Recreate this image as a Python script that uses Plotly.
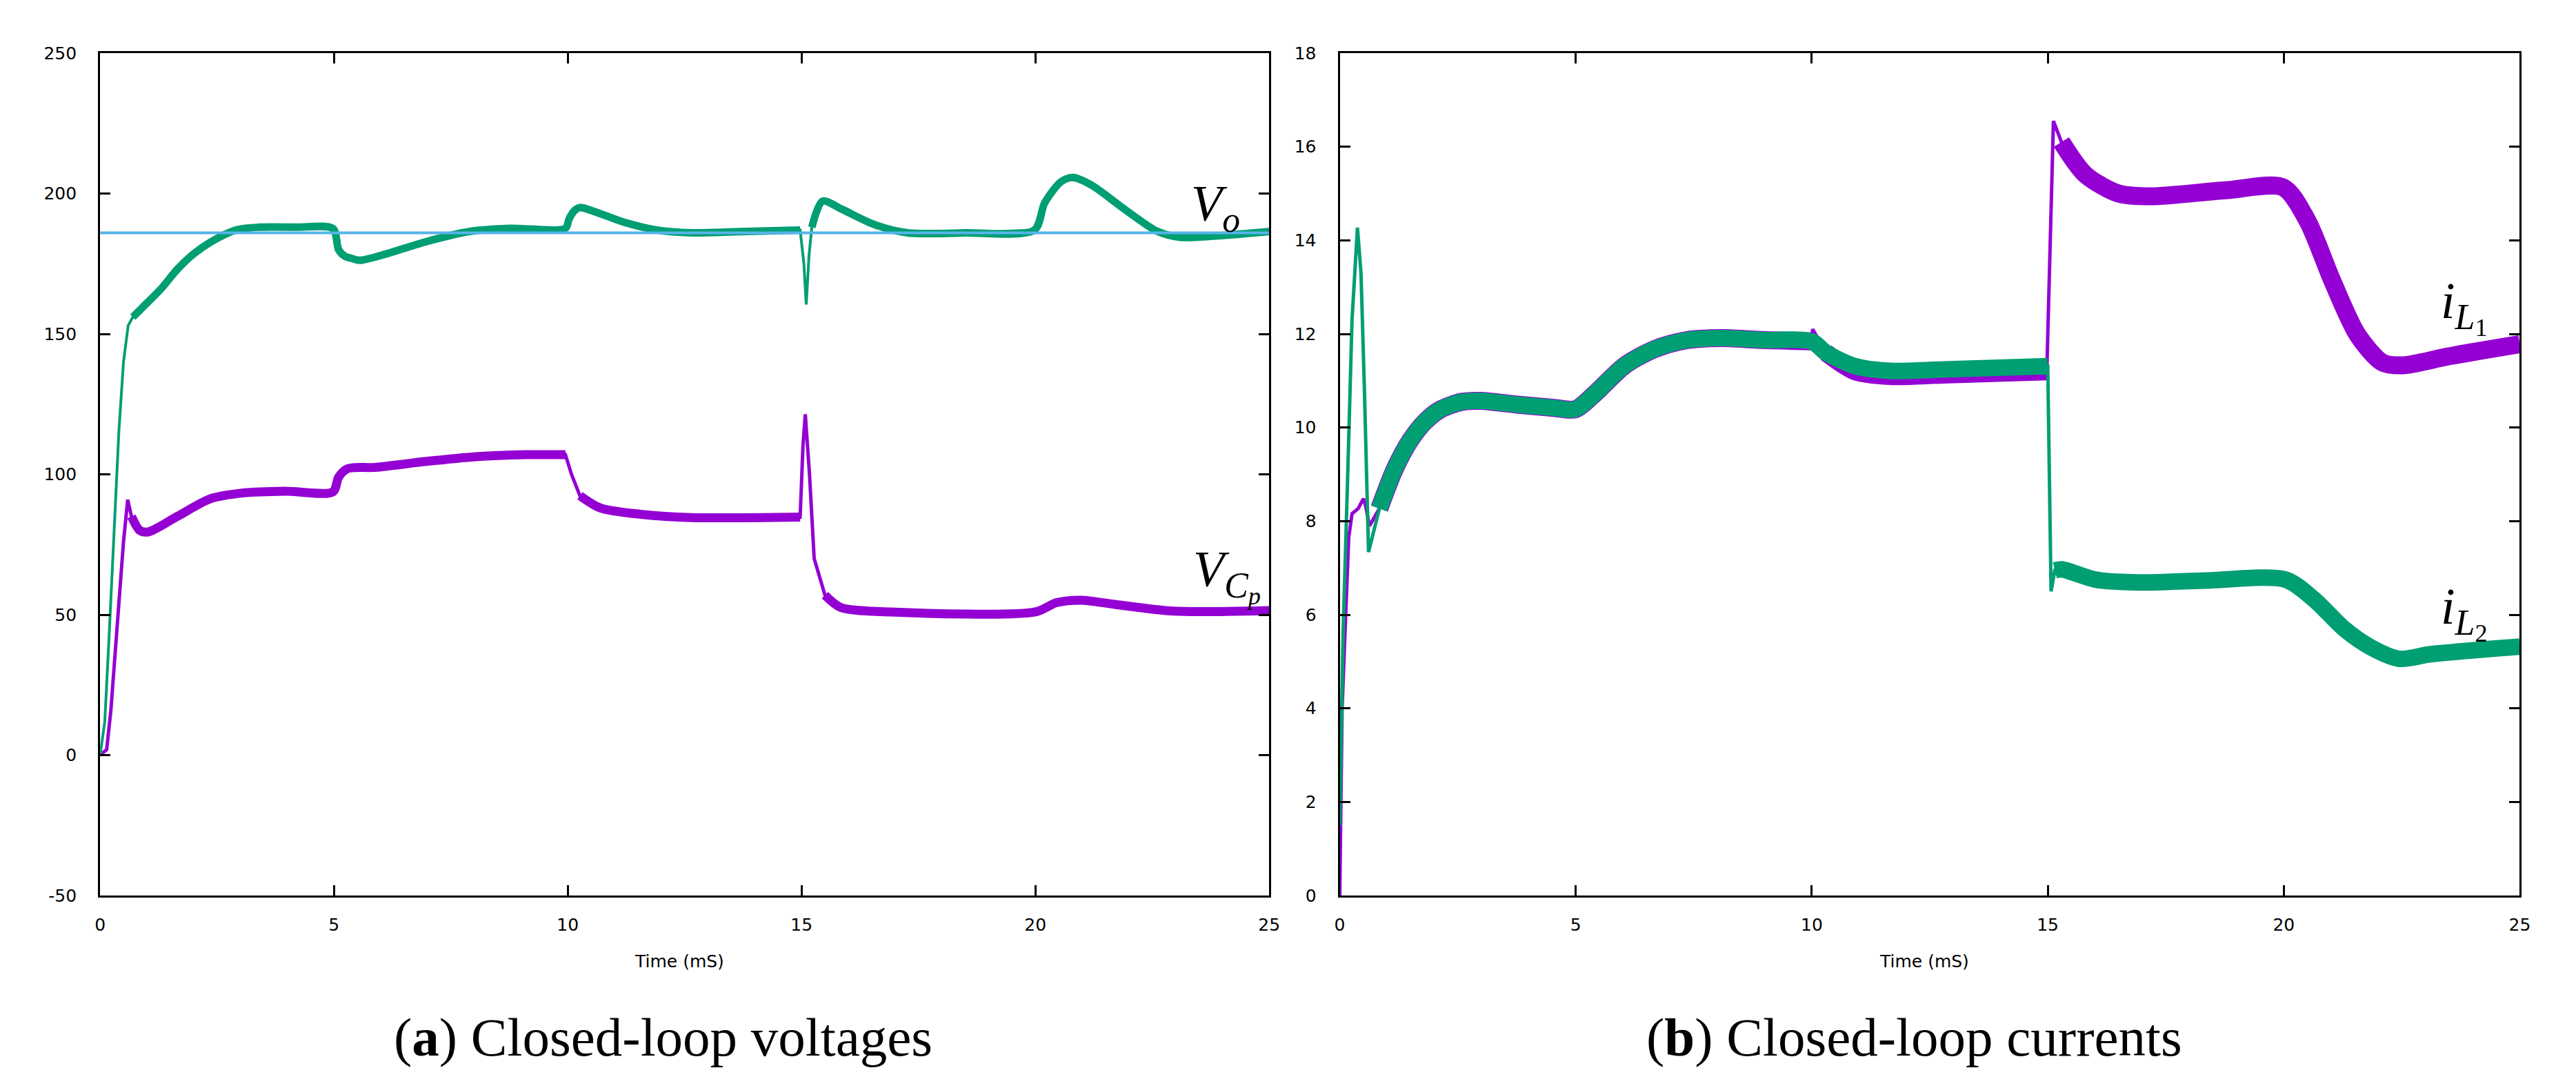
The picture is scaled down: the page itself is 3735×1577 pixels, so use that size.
import plotly.graph_objects as go

# ---- data (time in mS) ----
# (a) closed-loop voltages
t_vo = [0, 0.1, 0.2, 0.3, 0.4, 0.5, 0.6, 0.7, 0.94, 1.3, 1.65, 2.0, 2.36, 2.9, 3.4, 4.2, 4.98,
        5.1, 5.25, 5.38, 5.55, 6.1, 7.0, 7.9, 8.75, 9.95, 10.03, 10.15, 10.26, 10.5, 11.2, 11.9,
        12.65, 13.8, 14.97, 15.05, 15.1, 15.16, 15.22, 15.45, 15.85, 16.55, 17.27, 18.5, 19.98,
        20.2, 20.55, 20.8, 21.2, 21.9, 22.6, 23.1, 23.8, 25]
v_o = [0, 12, 45, 82, 115, 140, 153, 156, 160, 166, 173, 178.5, 182.7, 187, 188, 188, 187.5,
       180, 177.5, 176.9, 176.2, 178.4, 183, 186.5, 187.6, 187.6, 191, 194, 195, 194, 189.8, 187,
       186, 186.5, 187, 175, 160.5, 178, 188, 197.3, 194.5, 189, 186, 186, 187,
       196.7, 204.2, 205.7, 203, 194.5, 186.6, 184.4, 184.8, 186.5]

t_vcp = [0, 0.14, 0.23, 0.37, 0.5, 0.59, 0.67, 0.85, 1.03, 1.65, 2.36, 3.07, 3.96, 4.98, 5.1,
         5.29, 5.9, 6.97, 8.03, 9.1, 9.95, 10.08, 10.26, 10.7, 11.6, 12.65, 14.97, 15.03, 15.08,
         15.17, 15.27, 15.5, 15.84, 16.9, 20.0, 20.45, 20.98, 21.7, 22.95, 25]
v_cp = [0, 2, 16, 48, 76, 91, 85, 80, 79.5, 85, 91.3, 93.4, 94, 93.8, 99,
        102, 102.5, 104.6, 106.3, 107, 107, 100, 92.4, 88, 85.7, 84.6, 84.8, 110, 121.4,
        100, 70, 57, 52.6, 51, 51, 54.3, 55.2, 53.7, 51.3, 51.5]

t_ref = [0, 25]
v_ref = [186, 186]

# (b) closed-loop currents
t_il1 = [0, 0.05, 0.13, 0.19, 0.26, 0.39, 0.5, 0.55, 0.63, 0.84, 1.16, 1.49, 1.81, 2.14, 2.59,
         2.98, 3.76, 4.54, 4.99, 5.38, 6.03, 6.68, 7.32, 8.1, 8.95, 9.98, 10.02, 10.3, 10.92,
         11.66, 12.78, 14.98, 15.12, 15.29, 15.8, 16.5, 17.2, 18.77, 19.99, 20.5, 21.03, 21.57,
         22.09, 22.53, 23.49, 25]
i_l1 = [0, 4.0, 6.1, 7.65, 8.16, 8.27, 8.48, 8.32, 7.9, 8.27, 9.1, 9.72, 10.13, 10.39, 10.55,
        10.57, 10.49, 10.42, 10.39, 10.7, 11.32, 11.68, 11.86, 11.91, 11.87, 11.84, 12.1, 11.6, 11.2,
        11.1, 11.13, 11.2, 16.55, 16.1, 15.4, 15.0, 14.94, 15.07, 15.13, 14.42, 13.13, 11.97,
        11.39, 11.33, 11.52, 11.78]

t_il2 = [0, 0.07, 0.16, 0.26, 0.375, 0.45, 0.52, 0.61, 0.84, 1.16, 1.49, 1.81, 2.14, 2.59, 2.98,
         3.76, 4.54, 4.99, 5.38, 6.03, 6.68, 7.32, 8.1, 8.95, 10.0, 10.3, 10.92, 11.66, 12.78,
         15.0, 15.07, 15.15, 15.3, 16.01, 16.94, 18.33, 20.04, 20.64, 21.29, 21.85, 22.44, 23.13, 25]
i_l2 = [1.5, 5.6, 8.68, 12.3, 14.27, 13.3, 10.9, 7.34, 8.27, 9.1, 9.72, 10.13, 10.39, 10.55, 10.57,
        10.49, 10.42, 10.39, 10.7, 11.32, 11.68, 11.86, 11.91, 11.87, 11.84, 11.6, 11.31, 11.21, 11.24,
        11.31, 6.5, 6.95, 6.97, 6.75, 6.69, 6.73, 6.75, 6.33, 5.69, 5.3, 5.06, 5.16, 5.32]

v_ticks = [-50, 0, 50, 100, 150, 200, 250]
v_ticktext = ["-50", "0", "50", "100", "150", "200", "250"]

GREEN = "#009E73"
PURPLE = "#9400D3"
BLUE = "#56B4E9"
W, H = 3735, 1577


def windowed(t, y, windows):
    # keep only the points inside the ripple-band windows, None between windows
    xs, ys = [], []
    for a, b in windows:
        for ti, yi in zip(t, y):
            if a <= ti <= b:
                xs.append(ti)
                ys.append(yi)
        xs.append(None)
        ys.append(None)
    return xs, ys


def add_series(fig, t, y, color, thin, thick, windows, xa, ya):
    fig.add_trace(go.Scatter(x=t, y=y, mode="lines", line=dict(color=color, width=thin),
                             xaxis=xa, yaxis=ya, showlegend=False, hoverinfo="skip"))
    bx, by = windowed(t, y, windows)
    fig.add_trace(go.Scatter(x=bx, y=by, mode="lines",
                             line=dict(color=color, width=thick, shape="spline", smoothing=0.8),
                             xaxis=xa, yaxis=ya, showlegend=False, connectgaps=False))


fig = go.Figure()

# left panel
add_series(fig, t_vcp, v_cp, PURPLE, 5, 13, [(0.67, 9.95), (10.26, 14.97), (15.5, 25)], "x", "y")
add_series(fig, t_vo, v_o, GREEN, 4, 11, [(0.7, 14.97), (15.22, 25)], "x", "y")
fig.add_trace(go.Scatter(x=t_ref, y=v_ref, mode="lines", line=dict(color=BLUE, width=4),
                         xaxis="x", yaxis="y", showlegend=False))

# right panel
add_series(fig, t_il1, i_l1, PURPLE, 5, 26, [(0.84, 9.98), (10.3, 14.98), (15.29, 25)], "x2", "y2")
add_series(fig, t_il2, i_l2, GREEN, 5, 24, [(0.84, 15.0), (15.15, 25)], "x2", "y2")

tick_font = dict(family="DejaVu Sans", size=25, color="black")
axis_common = dict(showline=True, linecolor="black", linewidth=3, mirror="ticks",
                   ticks="inside", ticklen=15, tickwidth=3, tickcolor="black",
                   showgrid=False, zeroline=False, tickfont=tick_font)

left_dom = [130 / W, 1836 / W]
right_dom = [1939 / W, 3661 / W]
y_dom = [1 - 1300 / H, 1 - 56 / H]

fig.update_layout(
    width=W, height=H,
    margin=dict(l=0, r=0, t=0, b=0),
    paper_bgcolor="white", plot_bgcolor="white",
    xaxis=dict(domain=left_dom, range=[0, 25], dtick=5, anchor="y", ticklabelstandoff=18, **axis_common),
    yaxis=dict(domain=y_dom, range=[-50, 250], tickvals=v_ticks, ticktext=v_ticktext, anchor="x",
               ticklabelstandoff=26, **axis_common),
    xaxis2=dict(domain=right_dom, range=[0, 25], dtick=5, anchor="y2", ticklabelstandoff=18, **axis_common),
    yaxis2=dict(domain=y_dom, range=[0, 18], dtick=2, anchor="x2", ticklabelstandoff=26, **axis_common),
)

math_font = dict(family="Liberation Serif", size=74, color="black")
annotations = [
    dict(x=23.3, y=195, xref="x", yref="y", text="<i>V</i><sub><i>o</i></sub>"),
    dict(x=23.35, y=64, xref="x", yref="y", text="<i>V</i><sub><i>C</i><sub><i>p</i></sub></sub>"),
    dict(x=23.3, y=12.58, xref="x2", yref="y2", text="<i>i</i><sub><i>L</i><sub>1</sub></sub>"),
    dict(x=23.3, y=6.05, xref="x2", yref="y2", text="<i>i</i><sub><i>L</i><sub>2</sub></sub>"),
]
for a in annotations:
    fig.add_annotation(xanchor="left", yanchor="middle", showarrow=False, font=math_font, **a)

# axis titles and sub-figure captions
for xc in [(left_dom[0] + left_dom[1]) / 2, (right_dom[0] + right_dom[1]) / 2]:
    fig.add_annotation(x=xc - 8 / W, y=1 - 1397 / H, xref="paper", yref="paper", text="Time (mS)",
                       xanchor="center", yanchor="middle", showarrow=False,
                       font=dict(family="DejaVu Sans", size=25, color="black"))

cap_font = dict(family="Liberation Serif", size=79, color="black")
fig.add_annotation(x=952 / W, y=1 - 1509 / H, xref="paper", yref="paper", showarrow=False,
                   xanchor="center", yanchor="middle",
                   text="(<b>a</b>) Closed-loop voltages", font=cap_font)
fig.add_annotation(x=2777 / W, y=1 - 1509 / H, xref="paper", yref="paper", showarrow=False,
                   xanchor="center", yanchor="middle",
                   text="(<b>b</b>) Closed-loop currents", font=cap_font)

fig.write_html("out.html")
